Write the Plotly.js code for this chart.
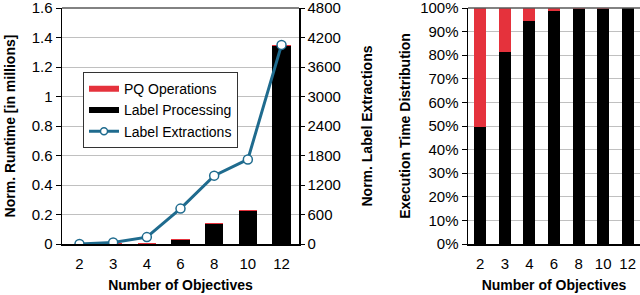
<!DOCTYPE html>
<html>
<head>
<meta charset="utf-8">
<script src="https://cdn.plot.ly/plotly-3.0.1.min.js"></script>
<style>html,body{margin:0;padding:0;background:#fff;}#chart{width:640px;height:295px;}</style>
</head>
<body>
<div id="chart"></div>
<script>
// ---- data ----
const objectives = ['2', '3', '4', '6', '8', '10', '12'];
// left chart: normalized runtime [in millions]
const labelProcessing = [0.0005, 0.001, 0.002, 0.03, 0.135, 0.224, 1.342];
const pqOperations    = [0.0005, 0.003, 0.005, 0.005, 0.008, 0.004, 0.006];
// left chart, right axis: normalized label extractions
const labelExtractions = [0, 30, 140, 720, 1390, 1720, 4050];
// right chart: execution time distribution [%]
const labelProcessingPct = [49.5, 81.2, 94.6, 98.9, 99.5, 99.6, 99.8];
const pqOperationsPct    = [50.5, 18.8, 5.4, 1.1, 0.5, 0.4, 0.2];
const leftTicks  = [0, 0.2, 0.4, 0.6, 0.8, 1, 1.2, 1.4, 1.6];
const rightTicks = [0, 600, 1200, 1800, 2400, 3000, 3600, 4200, 4800];

const RED = '#e5323c', BLACK = '#000000', BLUE = '#1f6b8e';
const FONT = 'Liberation Sans, Arial, sans-serif';
const W = 640;
const TOP = 8, BOTTOM = 51, PH = 295 - TOP - BOTTOM;

const traces = [
  {type: 'bar', x: objectives, y: labelProcessing, xaxis: 'x', yaxis: 'y',
   marker: {color: BLACK}, width: 0.55, showlegend: false, name: 'Label Processing'},
  {type: 'bar', x: objectives, y: pqOperations, xaxis: 'x', yaxis: 'y',
   marker: {color: RED}, width: 0.55, showlegend: false, name: 'PQ Operations'},
  {type: 'scatter', mode: 'lines+markers', x: objectives, y: labelExtractions,
   xaxis: 'x', yaxis: 'y2', name: 'Label Extractions', showlegend: false,
   line: {color: BLUE, width: 3},
   marker: {symbol: 'circle', size: 9, color: '#ffffff', line: {color: BLUE, width: 1.5}}},
  {type: 'bar', x: objectives, y: labelProcessingPct, xaxis: 'x2', yaxis: 'y3',
   marker: {color: BLACK}, width: 0.49, showlegend: false},
  {type: 'bar', x: objectives, y: pqOperationsPct, xaxis: 'x2', yaxis: 'y3',
   marker: {color: RED}, width: 0.49, showlegend: false},
  // legend-only entries
  {type: 'scatter', mode: 'lines', x: [null], y: [null], xaxis: 'x', yaxis: 'y',
   name: 'PQ Operations', line: {color: RED, width: 6}},
  {type: 'scatter', mode: 'lines', x: [null], y: [null], xaxis: 'x', yaxis: 'y',
   name: 'Label Processing', line: {color: BLACK, width: 6}},
  {type: 'scatter', mode: 'lines+markers', x: [null], y: [null], xaxis: 'x', yaxis: 'y',
   name: 'Label Extractions', line: {color: BLUE, width: 3},
   marker: {symbol: 'circle', size: 7, color: '#ffffff', line: {color: BLUE, width: 1.5}}}
];

const tickFont = {family: FONT, size: 15, color: '#000'};
const titleFont = {family: FONT, size: 14, color: '#000', weight: 'bold'};

const layout = {
  width: 640, height: 295,
  margin: {l: 0, r: 0, t: TOP, b: BOTTOM, pad: 0},
  paper_bgcolor: '#fff', plot_bgcolor: '#fff',
  barmode: 'stack', bargap: 0.45,
  font: {family: FONT, color: '#000'},
  showlegend: true,
  legend: {x: 83 / W, y: 0.728, xanchor: 'left', yanchor: 'top',
           traceorder: 'normal',
           bgcolor: '#fff', bordercolor: '#333', borderwidth: 1,
           font: {family: FONT, size: 14, color: '#000'}, tracegroupgap: 0,
           itemwidth: 30},
  xaxis: {domain: [62 / W, 299 / W], type: 'category', anchor: 'y',
          showline: true, linecolor: '#000', linewidth: 1.5, ticks: '',
          tickfont: tickFont, ticklabelstandoff: 5, showgrid: false, zeroline: false,
          title: {text: 'Number of Objectives', font: titleFont, standoff: 9}},
  yaxis: {range: [0, 1.6], tickvals: leftTicks, ticktext: leftTicks.map(String),
          ticklabeloverflow: 'allow',
          showline: true, linecolor: '#000', linewidth: 1.5, ticks: 'outside', ticklen: 5,
          tickcolor: '#000', tickfont: tickFont, showgrid: true, gridcolor: '#c0c0c0',
          zeroline: false, anchor: 'x',
          title: {text: 'Norm. Runtime [in millions]', font: titleFont, standoff: 12}},
  yaxis2: {range: [0, 4800], tickvals: rightTicks, ticktext: rightTicks.map(String),
           ticklabeloverflow: 'allow',
           overlaying: 'y', side: 'right', anchor: 'x',
           showline: true, linecolor: '#000', linewidth: 1.5, ticks: 'outside', ticklen: 4,
           tickcolor: '#000', tickfont: tickFont, showgrid: false, zeroline: false,
           title: {text: 'Norm. Label Extractions', font: titleFont, standoff: 22}},
  xaxis2: {domain: [468 / W, 1], type: 'category', anchor: 'y3',
           showline: true, linecolor: '#000', linewidth: 1.5, ticks: '',
           tickfont: tickFont, ticklabelstandoff: 5, showgrid: false, zeroline: false,
           title: {text: 'Number of Objectives', font: titleFont, standoff: 9}},
  yaxis3: {range: [0, 100], dtick: 10, ticksuffix: '%', anchor: 'x2',
           ticklabeloverflow: 'allow',
           showline: true, linecolor: '#000', linewidth: 1.5, ticks: 'outside', ticklen: 5,
           tickcolor: '#000', tickfont: tickFont, showgrid: true, gridcolor: '#c0c0c0',
           zeroline: false,
           title: {text: 'Execution Time Distribution', font: titleFont, standoff: 6}},
  shapes: [
    {type: 'line', xref: 'x domain', yref: 'y domain', x0: 0, x1: 1, y0: 1, y1: 1,
     line: {color: '#595959', width: 1.5}},
    {type: 'line', xref: 'x2 domain', yref: 'y3 domain', x0: 0, x1: 1, y0: 1, y1: 1,
     line: {color: '#595959', width: 1.5}}
  ]
};

Plotly.newPlot('chart', traces, layout, {staticPlot: true, displayModeBar: false});
</script>
</body>
</html>
